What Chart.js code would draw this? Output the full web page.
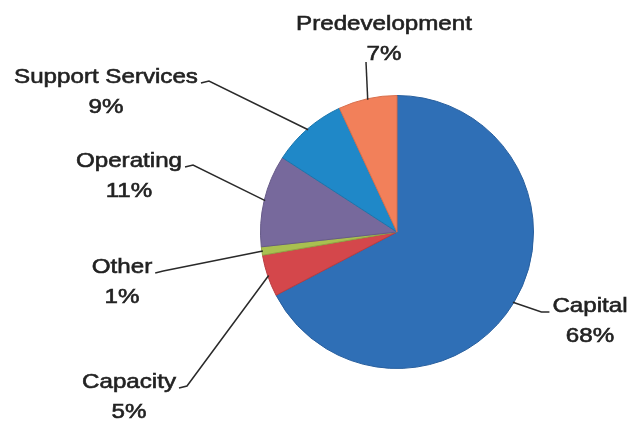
<!DOCTYPE html>
<html>
<head>
<meta charset="utf-8">
<script src="https://cdn.jsdelivr.net/npm/chart.js@4"></script>
<style>
  body { margin: 0; background: #fff; }
</style>
</head>
<body>
<canvas id="pieChart" width="631" height="422"></canvas>
<script>
// data, clockwise from 12 o'clock
var categories = ['Capital', 'Capacity', 'Other', 'Operating', 'Support Services', 'Predevelopment'];
var shares = [68, 5, 1, 11, 9, 7];
var percentLabels = ['68%', '5%', '1%', '11%', '9%', '7%'];

var sliceColors = ['#2f6fb6', '#d4474b', '#a9c050', '#77699c', '#1f88c8', '#f2805a'];
var sliceEdges = ['#285f9e', '#b93c40', '#8fa544', '#665a88', '#1a76ad', '#d86f4c'];

// where each label sits: centre x, first baseline y, which end the leader leaves from
var labelLayout = [
    { cx: 590, y: 312, side: 'left' },
    { cx: 129, y: 388, side: 'right' },
    { cx: 122, y: 273, side: 'right' },
    { cx: 129, y: 167, side: 'right' },
    { cx: 106, y: 83, side: 'right' },
    { cx: 384, y: 30, side: 'below' }
];

var textStretch = 1.15;

var calloutPlugin = {
    id: 'callouts',
    afterDraw: function(chart) {
        var ctx = chart.ctx;
        var arcs = chart.getDatasetMeta(0).data;
        ctx.save();
        ctx.font = '21px "Liberation Sans", Arial, sans-serif';
        ctx.textAlign = 'center';
        ctx.textBaseline = 'alphabetic';
        arcs.forEach(function(arc, i) {
            var pos = labelLayout[i];
            var mid = (arc.startAngle + arc.endAngle) / 2;
            var ex = arc.x + Math.cos(mid) * (arc.outerRadius - 1);
            var ey = arc.y + Math.sin(mid) * (arc.outerRadius - 1);
            var w = ctx.measureText(categories[i]).width * textStretch;

            // leader line
            ctx.strokeStyle = '#2a2a2a';
            ctx.lineWidth = 1.5;
            ctx.beginPath();
            if (pos.side === 'right') {
                ctx.moveTo(pos.cx + w / 2 + 3, pos.y);
                ctx.lineTo(pos.cx + w / 2 + 11, pos.y - 2);
            } else if (pos.side === 'left') {
                ctx.moveTo(pos.cx - w / 2 - 3, pos.y);
                ctx.lineTo(pos.cx - w / 2 - 11, pos.y);
            } else {
                ctx.moveTo(pos.cx - 18, pos.y + 32);
            }
            ctx.lineTo(ex, ey);
            ctx.stroke();

            // two-line label, stroked a touch to match the heavy print
            ctx.fillStyle = '#222';
            ctx.strokeStyle = '#222';
            ctx.lineWidth = 0.6;
            [categories[i], percentLabels[i]].forEach(function(txt, k) {
                ctx.save();
                ctx.translate(pos.cx, pos.y + k * 30);
                ctx.scale(textStretch, 1);
                ctx.fillText(txt, 0, 0);
                ctx.strokeText(txt, 0, 0);
                ctx.restore();
            });
        });
        ctx.restore();
    }
};

var ctx = document.getElementById('pieChart').getContext('2d');
var myChart = new Chart(ctx, {
    type: 'pie',
    data: {
        labels: categories,
        datasets: [{
            data: shares,
            backgroundColor: sliceColors,
            borderColor: sliceEdges,
            borderWidth: 1
        }]
    },
    options: {
        responsive: false,
        animation: false,
        devicePixelRatio: 1,
        layout: {
            padding: { left: 260, right: 97, top: 95, bottom: 53 }
        },
        plugins: {
            legend: { display: false },
            tooltip: { enabled: false }
        }
    },
    plugins: [calloutPlugin]
});
</script>
</body>
</html>
